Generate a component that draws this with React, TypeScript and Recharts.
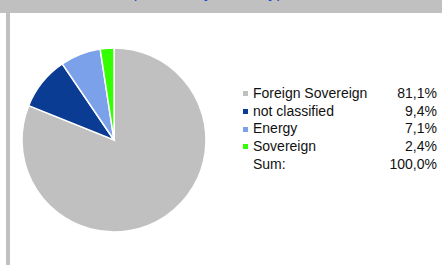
import React from "react";
import { PieChart, Pie, Cell } from "recharts";

const SECTORS = ["Foreign Sovereign", "not classified", "Energy", "Sovereign"];
const SHARES = [81.1, 9.4, 7.1, 2.4];
const COLORS = ["#c0c0c0", "#0b3c93", "#7ba1ea", "#33ff00"];
const TITLE = "Sectors – Bond portfolio by issuer type";

const FONT = '"Liberation Sans", Arial, Helvetica, sans-serif';

const fmt = (v: number) => v.toFixed(1).replace(".", ",") + "%";

export default function App() {
  const data = SECTORS.map((name, i) => ({ name, value: SHARES[i], color: COLORS[i] }));
  const total = SHARES.reduce((a, b) => a + b, 0);

  return (
    <div
      style={{
        position: "fixed",
        left: 0,
        top: 0,
        width: 442,
        height: 265,
        background: "#fff",
        overflow: "hidden",
        fontFamily: FONT,
      }}
    >
      {/* header band, title cut off at the top */}
      <div style={{ position: "absolute", left: 0, top: 0, width: 442, height: 13, background: "#c0c0c0", overflow: "hidden" }}>
        <div style={{ position: "absolute", left: 20, top: -16, fontSize: 16, color: "#2145c8", whiteSpace: "nowrap" }}>
          {TITLE}
        </div>
      </div>
      {/* left frame strip */}
      <div style={{ position: "absolute", left: 6, top: 13, width: 4, height: 252, background: "#c0c0c0" }} />

      <div style={{ position: "absolute", left: 0, top: 0 }}>
        <PieChart width={230} height={265} margin={{ top: 0, right: 0, bottom: 0, left: 0 }}>
          <Pie
            data={data}
            dataKey="value"
            cx={114}
            cy={140}
            outerRadius={92}
            startAngle={90}
            endAngle={-270}
            stroke="#fff"
            strokeWidth={1.5}
            isAnimationActive={false}
          >
            {data.map((d, i) => (
              <Cell key={i} fill={d.color} />
            ))}
          </Pie>
        </PieChart>
      </div>

      {/* legend with values */}
      <div style={{ position: "absolute", left: 243, top: 85, width: 194, fontSize: 14, color: "#111", lineHeight: "17.7px" }}>
        {data.map((d) => (
          <div key={d.name} style={{ display: "flex", alignItems: "center" }}>
            <span style={{ display: "inline-block", width: 5, height: 5, background: d.color, marginRight: 5 }} />
            <span style={{ flex: 1 }}>{d.name}</span>
            <span>{fmt(d.value)}</span>
          </div>
        ))}
        <div style={{ display: "flex", paddingLeft: 10 }}>
          <span style={{ flex: 1 }}>Sum:</span>
          <span>{fmt(total)}</span>
        </div>
      </div>
    </div>
  );
}
